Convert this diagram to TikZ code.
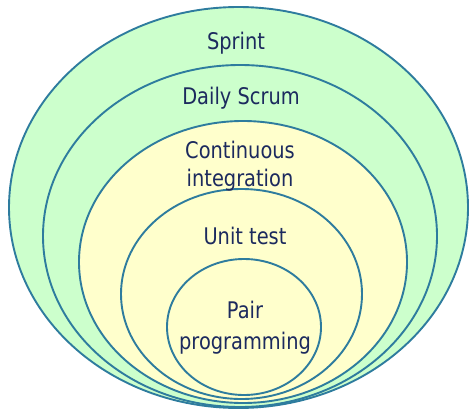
\documentclass[tikz,border=0pt]{standalone}
\usepackage{fontspec}
\setmainfont{DejaVu Sans}
\definecolor{ringline}{HTML}{2E7C9E}
\definecolor{ringgreen}{HTML}{CCFFCC}
\definecolor{ringyellow}{HTML}{FFFFCC}
\definecolor{labeltext}{HTML}{1C2A5E}
\begin{document}
\begin{tikzpicture}[
x=1pt, y=-1pt,
myring/.style={draw=ringline, line width=1.9pt},
mylabel/.style={anchor=base, align=center, text=labeltext, inner sep=0pt, yscale=1.18, transform shape, font=\fontsize{19.4}{23}\selectfont}
]

\useasboundingbox (0,0) rectangle (470,412);

\draw [myring, fill=ringgreen] (238.5,207.5) ellipse [x radius=229.5pt, y radius=200.5pt];
\draw [myring, fill=ringgreen] (240,236) ellipse [x radius=197pt, y radius=171pt];
\draw [myring, fill=ringyellow] (243,262) ellipse [x radius=164pt, y radius=141pt];
\draw [myring, fill=ringyellow] (241.5,294) ellipse [x radius=120.5pt, y radius=105pt];
\draw [myring, fill=ringyellow] (244,327) ellipse [x radius=77pt, y radius=68pt];

\node (sprint) at (236, 49.3) [mylabel] {Sprint};
\node (daily) at (241, 104) [mylabel] {Daily Scrum};
\node (contint) at (240, 186) [mylabel] {Continuous\\integration};
\node (unittest) at (245, 244) [mylabel] {Unit test};
\node (pairprog) at (245, 349) [mylabel, font=\fontsize{19.4}{25.5}\selectfont] {Pair\\programming};

\end{tikzpicture}
\end{document}
